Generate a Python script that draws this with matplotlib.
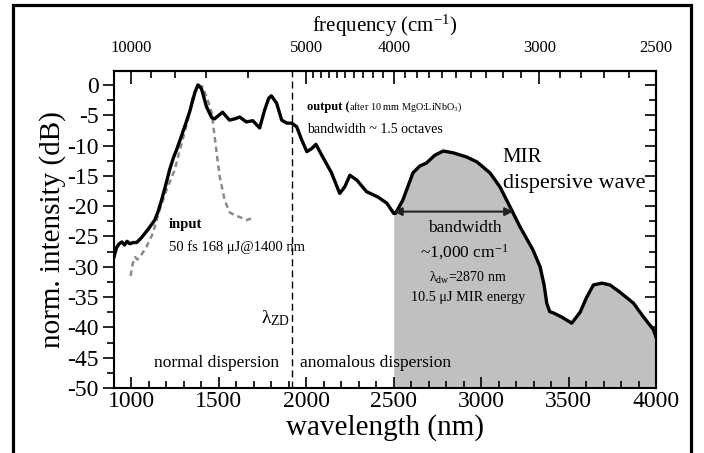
import numpy as np
import matplotlib
matplotlib.use("Agg")
import matplotlib.pyplot as plt
from matplotlib.patches import Rectangle
from matplotlib.ticker import MultipleLocator, FixedLocator

# Spektrum etter krystallen (svart kurve)
out_wl = [900, 915, 930, 945, 960, 975, 990, 1010, 1030, 1057, 1093, 1133, 1152, 1172,
          1195, 1218, 1240, 1258, 1280, 1304, 1333, 1362, 1380, 1400, 1429, 1459, 1475,
          1500, 1521, 1545, 1561, 1590, 1619, 1657, 1694, 1733, 1762, 1785, 1800, 1830,
          1859, 1888, 1916, 1945, 1974, 2003, 2031, 2055, 2094, 2144, 2191, 2220, 2249,
          2289, 2344, 2410, 2460, 2500, 2510, 2552, 2610, 2648, 2686, 2735, 2783,
          2840, 2918, 2976, 3050, 3107, 3165, 3222, 3296, 3337, 3360, 3375, 3392, 3412,
          3461, 3518, 3566, 3604, 3642, 3690, 3737, 3794, 3871, 3929, 3986, 4000]
out_db = [-28.4, -26.8, -26.2, -25.9, -26.4, -25.8, -26.2, -26.0, -26.0, -25.2, -23.9,
          -22.3, -20.9, -19.0, -16.6, -14.0, -12.0, -10.7, -8.9, -6.9, -4.4, -1.3, 0.0,
          -0.6, -3.6, -5.4, -5.6, -5.0, -4.5, -5.3, -5.8, -5.6, -5.3, -6.1, -5.9, -7.1,
          -4.1, -2.2, -1.8, -3.0, -5.8, -6.3, -6.3, -6.9, -9.1, -11.0, -10.5, -9.8,
          -11.9, -14.5, -17.9, -16.8, -14.9, -15.7, -17.6, -18.5, -19.5, -21.2, -21.2,
          -19.0, -14.5, -13.4, -12.9, -11.6, -10.9, -11.2, -11.9, -12.7, -14.5, -16.8,
          -20.1, -23.4, -27.2, -30.0, -33.0, -36.0, -37.4, -37.6, -38.3, -39.3, -37.5,
          -35.0, -33.0, -32.7, -33.0, -34.2, -36.0, -38.3, -40.4, -41.6]

# Inngangspuls (grå stiplet kurve)
in_wl = [995, 1007, 1020, 1035, 1057, 1086, 1122, 1161, 1201, 1247, 1287, 1323, 1350,
         1379, 1407, 1436, 1459, 1476, 1487, 1505, 1533, 1561, 1590, 1619, 1659, 1688]
in_db = [-31.5, -29.5, -28.4, -28.8, -28.0, -26.7, -24.5, -20.6, -17.3, -14.0, -9.6,
         -5.8, -2.0, 0.0, -0.3, -2.5, -4.6, -8.6, -11.2, -15.2, -19.0, -21.0, -21.5,
         -21.8, -22.3, -22.0]

lambda_zd = 1920
dw_start = 2500
bw_arrow = [2500, 3183]
bw_level = -20.9

freq_major = [10000, 5000, 4000, 3000, 2500]
freq_minor = [9000, 8000, 7000, 6000] + list(range(4900, 4000, -100)) \
    + list(range(3900, 3000, -100)) + list(range(2900, 2500, -100))

plt.rcParams["font.family"] = ["Liberation Serif", "DejaVu Serif"]
plt.rcParams["mathtext.fontset"] = "custom"
plt.rcParams["mathtext.rm"] = "Liberation Serif"
plt.rcParams["mathtext.it"] = "Liberation Serif:italic"
plt.rcParams["mathtext.bf"] = "Liberation Serif:bold"
plt.rcParams["axes.unicode_minus"] = False


def nm_til_cm(x):
    x = np.asarray(x, dtype=float)
    with np.errstate(divide="ignore"):
        return 1e7 / x


fig = plt.figure(figsize=(7.04, 4.53), dpi=100)
ax = fig.add_axes([114 / 704, 1 - 388 / 453, (656 - 114) / 704, (388 - 71) / 453])

wl = np.array(out_wl)
db = np.array(out_db)
ax.fill_between(wl, db, -50, where=wl >= dw_start, color="#c0c0c0", lw=0, zorder=1)
ax.plot(in_wl, in_db, color="#8a8a8a", lw=1.8, ls=(0, (2.2, 1.6)), zorder=2)
ax.plot(out_wl, out_db, color="black", lw=2.4, zorder=3, solid_joinstyle="round")
ax.axvline(lambda_zd, color="black", lw=1.0, ls=(0, (5, 3)), zorder=2)

ax.annotate("", xy=(bw_arrow[1], bw_level), xytext=(bw_arrow[0], bw_level),
            arrowprops=dict(arrowstyle="<|-|>", color="#222222", lw=1.5,
                            mutation_scale=12, shrinkA=0, shrinkB=0), zorder=4)

ax.set_xlim(900, 4000)
ax.set_ylim(-50, 2.3)
ax.xaxis.set_major_locator(MultipleLocator(500))
ax.xaxis.set_minor_locator(MultipleLocator(100))
ax.yaxis.set_major_locator(MultipleLocator(5))
ax.yaxis.set_minor_locator(MultipleLocator(2.5))
ax.tick_params(axis="x", which="both", direction="in", top=False, labelsize=17, pad=2)
ax.tick_params(axis="y", which="both", direction="out", right=False, labelsize=17, pad=3)
ax.tick_params(which="major", length=8, width=1.2)
ax.tick_params(which="minor", length=5, width=1.2)
for sp in ax.spines.values():
    sp.set_linewidth(1.5)

ax.set_xlabel("wavelength (nm)", fontsize=21, labelpad=1.5)
ax.set_ylabel("norm. intensity (dB)", fontsize=21, labelpad=1)

# frekvensakse oppe
sec = ax.secondary_xaxis("top", functions=(nm_til_cm, nm_til_cm))
sec.set_xticks(freq_major, [str(f) for f in freq_major])
sec.xaxis.set_minor_locator(FixedLocator(freq_minor))
sec.tick_params(which="both", direction="in", labelsize=12, pad=11, width=1.2)
sec.tick_params(which="major", length=9)
sec.tick_params(which="minor", length=5)
sec.spines["top"].set_linewidth(1.5)
sec.set_xlabel("frequency (cm$^{-1}$)", fontsize=15, labelpad=6)

# hake-merker på høyre side
sec_y = ax.secondary_yaxis("right")
sec_y.yaxis.set_major_locator(MultipleLocator(5))
sec_y.yaxis.set_minor_locator(MultipleLocator(2.5))
sec_y.tick_params(which="both", direction="in", labelright=False, width=1.2)
sec_y.tick_params(which="major", length=8)
sec_y.tick_params(which="minor", length=5)
sec_y.spines["right"].set_linewidth(1.5)

# tekster
ax.text(1212, -23.1, "input", fontsize=10.5, fontweight="bold", va="center")
ax.text(1212, -26.7, "50 fs 168 μJ@1400 nm", fontsize=10.5, va="center")
t_out = ax.text(2003, -3.6, "output (", fontsize=9, fontweight="bold", va="center")
ax.annotate("after 10 mm MgO:LiNbO$_3$)", xy=(1, 0.5), xycoords=t_out,
            fontsize=7.3, va="center")
ax.text(2003, -7.4, "bandwidth ~ 1.5 octaves", fontsize=10, va="center")
ax.text(3124, -11.9, "MIR", fontsize=15, va="center")
ax.text(3124, -16.2, "dispersive wave", fontsize=16, va="center")
ax.text(2905, -23.6, "bandwidth", fontsize=12.5, ha="center", va="center")
ax.text(2905, -27.6, "~1,000 cm$^{-1}$", fontsize=12.5, ha="center", va="center")
ax.text(2925, -31.8, "λ$_{\\mathrm{dw}}$=2870 nm", fontsize=10, ha="center", va="center")
ax.text(2925, -35.1, "10.5 μJ MIR energy", fontsize=10.3, ha="center", va="center")
ax.text(1905, -38.4, "λ$_{\\mathrm{ZD}}$", fontsize=14, ha="right", va="center")
ax.text(1487, -45.9, "normal dispersion", fontsize=12.5, ha="center", va="center")
ax.text(1966, -45.9, "anomalous dispersion", fontsize=12.5, ha="left", va="center")

# ytre ramme
fig.add_artist(Rectangle((13 / 704, -0.05), (691 - 13) / 704, 1.05 - 5 / 453,
                         transform=fig.transFigure, fill=False, lw=2.3,
                         ec="black", clip_on=False))

fig.savefig("out.png", dpi=100)
